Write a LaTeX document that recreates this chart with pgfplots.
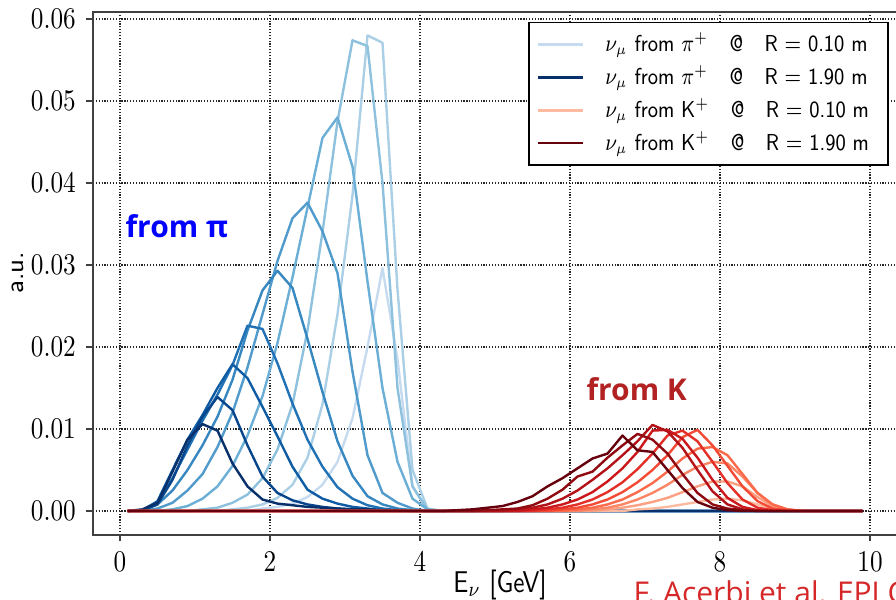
\documentclass[border=0pt]{standalone}
\usepackage{graphicx}
\usepackage{pgfplots}
\pgfplotsset{compat=1.18}
\usepackage{fontspec}
\newfontfamily\annotfont{Open Sans}

% Blues / Reds colour ramps, light to dark (R = 0.10 ... 1.90 m)
\definecolor{bA}{RGB}{198,219,239}
\definecolor{bB}{RGB}{171,208,230}
\definecolor{bC}{RGB}{141,193,221}
\definecolor{bD}{RGB}{107,174,214}
\definecolor{bE}{RGB}{80,155,203}
\definecolor{bF}{RGB}{55,135,192}
\definecolor{bG}{RGB}{33,113,181}
\definecolor{bH}{RGB}{16,92,164}
\definecolor{bI}{RGB}{8,70,140}
\definecolor{bJ}{RGB}{8,48,107}
\definecolor{rA}{RGB}{252,187,161}
\definecolor{rB}{RGB}{252,160,130}
\definecolor{rC}{RGB}{252,133,101}
\definecolor{rD}{RGB}{251,106,74}
\definecolor{rE}{RGB}{243,75,54}
\definecolor{rF}{RGB}{227,47,39}
\definecolor{rG}{RGB}{203,24,29}
\definecolor{rH}{RGB}{178,18,24}
\definecolor{rI}{RGB}{144,10,18}
\definecolor{rJ}{RGB}{103,0,13}
\definecolor{fromK}{RGB}{178,34,34}
\definecolor{citered}{RGB}{214,39,40}

% condensed text used for labels and legend entries
\newcommand{\cond}[1]{\scalebox{0.84}[1]{#1}}
\newcommand{\lentry}[2]{\scalebox{0.835}[1]{$\nu_\mu$ from #1\hspace{8.5pt}@\hspace{8.5pt}R $=$ #2 m\hspace{2.2pt}}}

\begin{document}
\begin{tikzpicture}
\begin{axis}[
  x=25pt, y=2733.33pt,
  xmin=-0.36, xmax=10.5, ymin=-0.0029, ymax=0.0609,
  clip=false,
  axis line style={black!75, line width=0.65pt},
  xtick={0,2,4,6,8,10},
  ytick={0,0.01,0.02,0.03,0.04,0.05,0.06},
  scaled y ticks=false,
  xticklabel={\cond{$\pgfmathprintnumber{\tick}$}},
  yticklabel={\cond{$\pgfmathprintnumber[fixed,precision=2,fixed zerofill]{\tick}$}},
  tick label style={font=\fontsize{10.4}{11}\selectfont},
  tick align=outside, tick pos=left,
  major tick length=2.2pt,
  tick style={black!75, line width=0.5pt},
  grid=major,
  grid style={black!85, line width=0.35pt, dash pattern=on 0.4pt off 0.55pt},
  xlabel={\cond{E$_\nu$ [GeV]}},
  ylabel={a.u.},
  xlabel style={font=\sffamily\fontsize{10}{11}\selectfont, at={(axis description cs:0.4997,-0.0956)}, anchor=center},
  ylabel style={font=\sffamily\fontsize{8.4}{10}\selectfont, at={(axis description cs:-0.0925,0.501)}, anchor=center},
  every axis plot/.append style={line width=0.8pt, line join=round},
  legend cell align=left,
  legend style={at={(0.9773,0.9809)}, anchor=north east, draw=black, line width=0.55pt,
    fill=white, font=\sffamily\fontsize{7.7}{9}\selectfont,
    inner xsep=2.6pt, inner ysep=2.8pt, row sep=1.9pt,
    nodes={inner ysep=0.7pt}},
  legend image code/.code={\draw[#1, line width=0.95pt] (0pt,0pt) -- (15pt,0pt); \path[draw=none] (0pt,0pt) -- (20.5pt,0pt);},
]
% ---- neutrinos from pion decays ----
\addplot[bA] coordinates {(0.1,0) (1.7,0) (1.9,0.0003) (2.1,0.0005) (2.3,0.0009) (2.5,0.0017) (2.7,0.0032) (2.9,0.0060) (3.1,0.0113) (3.3,0.0200) (3.5,0.0296) (3.7,0.0185) (3.9,0.0030) (4.1,0) (9.9,0)};
\addlegendentry{\lentry{$\pi^+$}{0.10}}
\addplot[bB, forget plot] coordinates {(0.1,0) (1.3,0) (1.5,0.0002) (1.7,0.0004) (1.9,0.0008) (2.1,0.0016) (2.3,0.0032) (2.5,0.0065) (2.7,0.0130) (2.9,0.0240) (3.1,0.0385) (3.3,0.0580) (3.5,0.0571) (3.7,0.0270) (3.9,0.0050) (4.1,0.0003) (4.3,0) (9.9,0)};
\addplot[bC, forget plot] coordinates {(0.1,0) (0.9,0) (1.1,0.0002) (1.3,0.0004) (1.5,0.0010) (1.7,0.0020) (1.9,0.0040) (2.1,0.0075) (2.3,0.0130) (2.5,0.0220) (2.7,0.0340) (2.9,0.0475) (3.1,0.0574) (3.3,0.0567) (3.5,0.0400) (3.7,0.0150) (3.9,0.0030) (4.1,0.0002) (4.3,0) (9.9,0)};
\addplot[bD, forget plot] coordinates {(0.1,0) (0.5,0) (0.7,0.0002) (0.9,0.0006) (1.1,0.0015) (1.3,0.0030) (1.5,0.0055) (1.7,0.0092) (1.9,0.0140) (2.1,0.0205) (2.3,0.0285) (2.5,0.0370) (2.7,0.0455) (2.9,0.0480) (3.1,0.0420) (3.3,0.0280) (3.5,0.0150) (3.7,0.0060) (3.9,0.0015) (4.1,0.0002) (4.3,0) (9.9,0)};
\addplot[bE, forget plot] coordinates {(0.1,0) (0.3,0) (0.5,0.0003) (0.7,0.0010) (0.9,0.0025) (1.1,0.0045) (1.3,0.0078) (1.5,0.0120) (1.7,0.0175) (1.9,0.0240) (2.1,0.0305) (2.3,0.0357) (2.5,0.0376) (2.7,0.0341) (2.9,0.0290) (3.1,0.0170) (3.3,0.0068) (3.5,0.0022) (3.7,0.0010) (3.9,0.0003) (4.1,0) (9.9,0)};
\addplot[bF, forget plot] coordinates {(0.1,0) (0.3,0) (0.5,0.0008) (0.7,0.0025) (0.9,0.0050) (1.1,0.0080) (1.3,0.0115) (1.5,0.0160) (1.7,0.0220) (1.9,0.0269) (2.1,0.0293) (2.3,0.0272) (2.5,0.0210) (2.7,0.0145) (2.9,0.0085) (3.1,0.0043) (3.3,0.0018) (3.5,0.0008) (3.7,0.0003) (3.9,0.0001) (4.1,0) (9.9,0)};
\addplot[bG, forget plot] coordinates {(0.1,0) (0.3,0.0001) (0.5,0.0010) (0.7,0.0040) (0.9,0.0075) (1.1,0.0110) (1.3,0.0142) (1.5,0.0178) (1.7,0.0226) (1.9,0.0222) (2.1,0.0180) (2.3,0.0131) (2.5,0.0087) (2.7,0.0054) (2.9,0.0029) (3.1,0.0015) (3.3,0.0007) (3.5,0.0003) (3.7,0.0001) (3.9,0) (9.9,0)};
\addplot[bH, forget plot] coordinates {(0.1,0) (0.3,0.0001) (0.5,0.0012) (0.7,0.0050) (0.9,0.0087) (1.1,0.0117) (1.3,0.0150) (1.5,0.0179) (1.7,0.0162) (1.9,0.0127) (2.1,0.0091) (2.3,0.0054) (2.5,0.0026) (2.7,0.0015) (2.9,0.0009) (3.1,0.0005) (3.3,0.0003) (3.5,0.0001) (3.7,0) (9.9,0)};
\addplot[bI, forget plot] coordinates {(0.1,0) (0.3,0.0001) (0.5,0.0008) (0.7,0.0038) (0.9,0.0080) (1.1,0.0115) (1.3,0.0139) (1.5,0.0123) (1.7,0.0080) (1.9,0.0042) (2.1,0.0022) (2.3,0.0013) (2.5,0.0008) (2.7,0.0005) (2.9,0.0003) (3.1,0.0002) (3.3,0.0001) (3.5,0) (9.9,0)};
\addplot[bJ] coordinates {(0.1,0) (0.3,0.0002) (0.5,0.0010) (0.7,0.0048) (0.9,0.0087) (1.1,0.0106) (1.3,0.0098) (1.5,0.0058) (1.7,0.0030) (1.9,0.0014) (2.1,0.0009) (2.3,0.0007) (2.5,0.0005) (2.7,0.0004) (2.9,0.0003) (3.1,0.0002) (3.3,0.0002) (3.5,0.0001) (3.7,0.0001) (3.9,0) (9.9,0)};
\addlegendentry{\lentry{$\pi^+$}{1.90}}
% ---- neutrinos from kaon decays ----
\addplot[rA] coordinates {(0.1,0) (6.7,0) (6.9,0.0002) (7.1,0.0003) (7.3,0.0005) (7.5,0.0008) (7.7,0.0011) (7.9,0.0014) (8.1,0.0015) (8.3,0.0013) (8.5,0.0008) (8.7,0.0003) (8.9,0.0001) (9.1,0) (9.9,0)};
\addlegendentry{\lentry{K$^+$}{0.10}}
\addplot[rB, forget plot] coordinates {(0.1,0) (6.3,0) (6.5,0.0002) (6.7,0.0004) (6.9,0.0007) (7.1,0.0011) (7.3,0.0016) (7.5,0.0023) (7.7,0.0030) (7.9,0.0036) (8.1,0.0036) (8.3,0.0030) (8.5,0.0017) (8.7,0.0006) (8.9,0.0001) (9.1,0) (9.9,0)};
\addplot[rC, forget plot] coordinates {(0.1,0) (6.1,0) (6.3,0.0002) (6.5,0.0004) (6.7,0.0008) (6.9,0.0014) (7.1,0.0022) (7.3,0.0032) (7.5,0.0044) (7.7,0.0054) (7.9,0.0060) (8.1,0.0058) (8.3,0.0042) (8.5,0.0022) (8.7,0.0008) (8.9,0.0002) (9.1,0) (9.9,0)};
\addplot[rD, forget plot] coordinates {(0.1,0) (5.9,0) (6.1,0.0002) (6.3,0.0004) (6.5,0.0008) (6.7,0.0014) (6.9,0.0023) (7.1,0.0034) (7.3,0.0048) (7.5,0.0064) (7.7,0.0076) (7.9,0.0078) (8.1,0.0068) (8.3,0.0045) (8.5,0.0022) (8.7,0.0008) (8.9,0.0002) (9.1,0) (9.9,0)};
\addplot[rE, forget plot] coordinates {(0.1,0) (5.7,0) (5.9,0.0002) (6.1,0.0004) (6.3,0.0008) (6.5,0.0014) (6.7,0.0023) (6.9,0.0035) (7.1,0.0050) (7.3,0.0068) (7.5,0.0090) (7.7,0.0099) (7.9,0.0080) (8.1,0.0055) (8.3,0.0030) (8.5,0.0012) (8.7,0.0003) (8.9,0.0001) (9.1,0) (9.9,0)};
\addplot[rF, forget plot] coordinates {(0.1,0) (5.5,0) (5.7,0.0002) (5.9,0.0004) (6.1,0.0008) (6.3,0.0014) (6.5,0.0023) (6.7,0.0035) (6.9,0.0051) (7.1,0.0070) (7.3,0.0092) (7.5,0.0098) (7.7,0.0085) (7.9,0.0060) (8.1,0.0034) (8.3,0.0014) (8.5,0.0004) (8.7,0.0001) (8.9,0) (9.9,0)};
\addplot[rG, forget plot] coordinates {(0.1,0) (5.3,0) (5.5,0.0002) (5.7,0.0004) (5.9,0.0008) (6.1,0.0014) (6.3,0.0023) (6.5,0.0036) (6.7,0.0052) (6.9,0.0072) (7.1,0.0098) (7.3,0.0099) (7.5,0.0088) (7.7,0.0065) (7.9,0.0038) (8.1,0.0016) (8.3,0.0005) (8.5,0.0001) (8.7,0) (9.9,0)};
\addplot[rH, forget plot] coordinates {(0.1,0) (5.1,0) (5.3,0.0002) (5.5,0.0004) (5.7,0.0008) (5.9,0.0015) (6.1,0.0025) (6.3,0.0038) (6.5,0.0052) (6.7,0.0068) (6.9,0.0085) (7.1,0.0105) (7.3,0.0097) (7.5,0.0077) (7.7,0.0050) (7.9,0.0024) (8.1,0.0008) (8.3,0.0002) (8.5,0) (9.9,0)};
\addplot[rI, forget plot] coordinates {(0.1,0) (4.7,0) (4.9,0.0001) (5.1,0.0002) (5.3,0.0003) (5.5,0.0007) (5.7,0.0015) (5.9,0.0026) (6.1,0.0042) (6.3,0.0048) (6.5,0.0065) (6.7,0.0080) (6.9,0.0094) (7.1,0.0087) (7.3,0.0070) (7.5,0.0045) (7.7,0.0022) (7.9,0.0008) (8.1,0.0003) (8.3,0.0001) (8.5,0) (9.9,0)};
\addplot[rJ] coordinates {(0.1,0) (4.3,0) (4.5,0.0001) (4.7,0.0002) (4.9,0.0004) (5.1,0.0006) (5.3,0.0011) (5.5,0.0018) (5.7,0.0030) (5.9,0.0040) (6.1,0.0052) (6.3,0.0064) (6.5,0.0070) (6.7,0.0092) (6.9,0.0074) (7.1,0.0072) (7.3,0.0050) (7.5,0.0028) (7.7,0.0011) (7.9,0.0004) (8.1,0.0001) (8.3,0) (9.9,0)};
\addlegendentry{\lentry{K$^+$}{1.90}}

\node[anchor=west, text=blue, font=\annotfont\bfseries\fontsize{10}{12}\selectfont, inner sep=0pt] at (axis cs:0.067,0.0347) {from π};
\node[anchor=center, text=fromK, font=\annotfont\bfseries\fontsize{10}{12}\selectfont, inner sep=0pt] at (axis cs:6.89,0.0149) {from K};
\node[anchor=north west, text=citered, font=\annotfont\fontsize{10}{12}\selectfont, inner sep=0pt] at (axis cs:6.84,-0.0084) {F. Acerbi et al. EPJ C};

\coordinate (bbl) at (axis cs:-1.6,-0.010854);
\coordinate (btr) at (axis cs:10.3467,0.062317);
\end{axis}
\pgfresetboundingbox
\useasboundingbox (bbl) rectangle (btr);
\end{tikzpicture}
\end{document}
